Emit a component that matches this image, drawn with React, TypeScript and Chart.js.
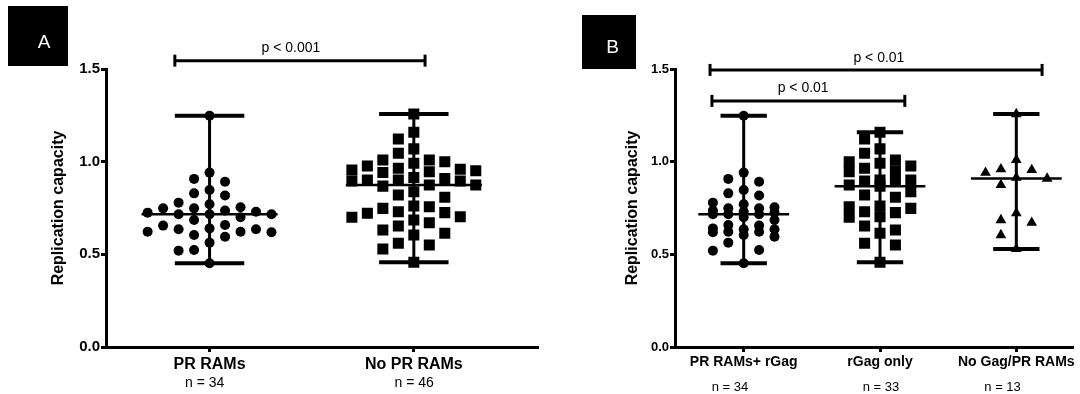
import React, { useEffect, useRef } from "react";
import { Chart, registerables } from "chart.js";

Chart.register(...registerables);

const FONT = "'Liberation Sans', Arial, Helvetica, sans-serif";
Chart.defaults.font.family = FONT;

// ---------- Data ----------
const categoriesA = ["PR RAMs", "No PR RAMs"];
const countsA = ["n = 34", "n = 46"];
const categoriesB = ["PR RAMs+ rGag", "rGag only", "No Gag/PR RAMs"];
const countsB = ["n = 34", "n = 33", "n = 13"];

const yTickValues = [0, 0.5, 1.0, 1.5];

// PR RAMs (+ rGag), n = 34
const prRams = [
  1.248, 0.941, 0.907, 0.892, 0.847, 0.829, 0.817, 0.779, 0.77, 0.754, 0.748,
  0.748, 0.736, 0.73, 0.725, 0.716, 0.716, 0.716, 0.7, 0.685, 0.658, 0.655,
  0.64, 0.635, 0.635, 0.622, 0.622, 0.619, 0.604, 0.595, 0.563, 0.523, 0.52,
  0.452,
];
// rGag only, n = 33
const rGagOnly = [
  1.159, 1.122, 1.069, 1.045, 1.009, 1.0, 0.991, 0.977, 0.964, 0.951, 0.946,
  0.901, 0.901, 0.896, 0.896, 0.874, 0.868, 0.838, 0.82, 0.808, 0.761, 0.757,
  0.748, 0.73, 0.725, 0.703, 0.7, 0.653, 0.631, 0.614, 0.56, 0.55, 0.457,
];
// No Gag/PR RAMs, n = 13
const noGagPr = [
  1.257, 1.009, 0.959, 0.955, 0.941, 0.914, 0.909, 0.874, 0.722, 0.685, 0.671,
  0.604, 0.529,
];
// No PR RAMs (= rGag only + No Gag/PR RAMs), n = 46
const noPrRams = [...rGagOnly, ...noGagPr];

const pValueA = ["p < 0.001"];
const pValuesB = ["p < 0.01", "p < 0.01"];

// ---------- helpers ----------
function median(vals: number[]) {
  const s = [...vals].sort((a, b) => a - b);
  const m = Math.floor(s.length / 2);
  return s.length % 2 ? s[m] : (s[m - 1] + s[m]) / 2;
}

// Prism-like column scatter: extremes on the centre line, the rest placed greedily into slots
function swarmSlots(values: number[], maxSlot: number, gap: number) {
  const idx = values.map((_, i) => i).sort((a, b) => values[b] - values[a]);
  const order = [idx[0], idx[idx.length - 1], ...idx.slice(1, -1)];
  const cols: Record<number, number[]> = {};
  const slots = new Array(values.length).fill(0);
  const cand = [0];
  for (let k = 1; k <= maxSlot; k++) cand.push(-k, k);
  order.forEach((i, n) => {
    const v = values[i];
    let best = 0;
    if (n >= 2) {
      let bestD = -1;
      for (const s of cand) {
        const col = cols[s] || [];
        const d = col.length ? Math.min(...col.map((u) => Math.abs(u - v))) : Infinity;
        if (d >= gap) {
          best = s;
          break;
        }
        if (d > bestD) {
          bestD = d;
          best = s;
        }
      }
    }
    slots[i] = best;
    (cols[best] = cols[best] || []).push(v);
  });
  return slots;
}

function strokeLine(ctx: any, x1: number, y1: number, x2: number, y2: number, w: number) {
  ctx.beginPath();
  ctx.lineWidth = w;
  ctx.lineCap = "butt";
  ctx.moveTo(x1, y1);
  ctx.lineTo(x2, y2);
  ctx.stroke();
}

const CAP_HALF = 0.17;
const MED_HALF = 0.333;

function makeConfig(p: any) {
  const datasets = p.groups.map((vals: number[], gi: number) => {
    const slots = swarmSlots(vals, p.maxSlot, p.gap);
    return {
      data: vals.map((v, i) => ({ x: gi + 1 + slots[i] * p.slotWidth, y: v })),
      pointStyle: p.styles[gi],
      pointRadius: p.radii[gi],
      pointHoverRadius: p.radii[gi],
      backgroundColor: "#000",
      borderColor: "#000",
      borderWidth: 0,
      pointBorderWidth: 0,
      showLine: false,
    };
  });

  const decor = {
    id: "decor",
    beforeDatasetsDraw(chart: any) {
      const { ctx } = chart;
      const x = chart.scales.x;
      const y = chart.scales.y;
      ctx.save();
      ctx.strokeStyle = "#000";
      p.groups.forEach((vals: number[], gi: number) => {
        const c = gi + 1;
        const cx = x.getPixelForValue(c);
        const mn = Math.min(...vals);
        const mx = Math.max(...vals);
        const md = median(vals);
        strokeLine(ctx, cx, y.getPixelForValue(mn), cx, y.getPixelForValue(mx), 3);
        for (const v of [mn, mx]) {
          const py = y.getPixelForValue(v);
          strokeLine(ctx, x.getPixelForValue(c - CAP_HALF), py, x.getPixelForValue(c + CAP_HALF), py, 4);
        }
        const pm = y.getPixelForValue(md);
        strokeLine(ctx, x.getPixelForValue(c - MED_HALF), pm, x.getPixelForValue(c + MED_HALF), pm, 2.5);
      });
      ctx.restore();
    },
    afterDraw(chart: any) {
      const { ctx } = chart;
      const x = chart.scales.x;
      const y = chart.scales.y;
      ctx.save();
      // panel letter
      const L = p.letter;
      ctx.fillStyle = "#000";
      ctx.fillRect(L.x, L.y, L.size, L.size);
      ctx.fillStyle = "#fff";
      ctx.font = `19px ${FONT}`;
      ctx.textAlign = "center";
      ctx.textBaseline = "middle";
      ctx.fillText(L.text, L.tx, L.ty);
      // significance brackets
      ctx.strokeStyle = "#000";
      ctx.fillStyle = "#000";
      p.brackets.forEach((b: any) => {
        const x1 = x.getPixelForValue(b.x1);
        const x2 = x.getPixelForValue(b.x2);
        const py = y.getPixelForValue(b.y);
        strokeLine(ctx, x1, py, x2, py, 3);
        strokeLine(ctx, x1, py - 6, x1, py + 6, 3);
        strokeLine(ctx, x2, py - 6, x2, py + 6, 3);
        ctx.font = `${p.pFont}px ${FONT}`;
        ctx.textAlign = "center";
        ctx.textBaseline = "middle";
        ctx.fillText(b.text, x.getPixelForValue(b.tx), y.getPixelForValue(b.ty));
      });
      // n labels
      ctx.font = `${p.nFont}px ${FONT}`;
      ctx.textAlign = "center";
      ctx.textBaseline = "middle";
      p.counts.forEach((t: string, i: number) => {
        ctx.fillText(t, x.getPixelForValue(p.countX[i]), y.getPixelForValue(p.countY));
      });
      ctx.restore();
    },
  };

  return {
    type: "scatter",
    data: { datasets },
    plugins: [decor],
    options: {
      animation: false,
      responsive: false,
      events: [],
      layout: { padding: { left: 0, top: 69, right: p.padRight, bottom: 0 } },
      plugins: { legend: { display: false }, tooltip: { enabled: false } },
      scales: {
        x: {
          type: "linear",
          min: p.xMin,
          max: p.xMax,
          afterBuildTicks: (s: any) => {
            s.ticks = p.categories.map((_: string, i: number) => ({ value: i + 1 }));
          },
          afterFit: (s: any) => {
            s.height = 47;
            s.paddingLeft = 0;
            s.paddingRight = 0;
          },
          grid: {
            display: true,
            drawOnChartArea: false,
            drawTicks: true,
            tickLength: 5,
            lineWidth: 3,
            color: "#000",
          },
          border: { display: true, color: "#000", width: 3 },
          ticks: {
            autoSkip: false,
            maxRotation: 0,
            minRotation: 0,
            padding: p.xPad,
            color: "#000",
            font: { size: p.catFont, weight: "bold", family: FONT },
            callback: (_v: any, i: number) => p.categories[i],
          },
        },
        y: {
          type: "linear",
          min: 0,
          max: 1.5,
          afterBuildTicks: (s: any) => {
            s.ticks = yTickValues.map((v) => ({ value: v }));
          },
          afterFit: (s: any) => {
            s.width = p.yWidth;
            s.paddingTop = 0;
            s.paddingBottom = 0;
          },
          grid: {
            display: true,
            drawOnChartArea: false,
            drawTicks: true,
            tickLength: 5,
            lineWidth: 3,
            color: "#000",
          },
          border: { display: true, color: "#000", width: 3 },
          ticks: {
            padding: 1,
            color: "#000",
            font: { size: p.tickFont, weight: "bold", family: FONT },
            callback: (v: any) => Number(v).toFixed(1),
          },
          title: {
            display: true,
            text: "Replication capacity",
            color: "#000",
            font: { size: 16, weight: "bold", family: FONT },
            padding: { top: p.titlePad, bottom: 0 },
          },
        },
      },
    },
  };
}

const panelA = {
  categories: categoriesA,
  counts: countsA,
  countX: [0.976, 2.002],
  countY: -0.194,
  groups: [prRams, noPrRams],
  styles: ["circle", "rect", "triangle"],
  radii: [5, 7.8, 6.2],
  xMin: 0.493,
  xMax: 2.604,
  padRight: 2,
  yWidth: 106,
  titlePad: 49.4,
  slotWidth: 0.0758,
  maxSlot: 4,
  gap: 0.075,
  catFont: 16,
  tickFont: 15,
  xPad: 3,
  nFont: 14,
  pFont: 14,
  letter: { x: 8, y: 6, size: 60, text: "A", tx: 44, ty: 43 },
  brackets: [{ x1: 0.83, x2: 2.055, y: 1.545, text: pValueA[0], tx: 1.398, ty: 1.614 }],
};

const panelB = {
  categories: categoriesB,
  counts: countsB,
  countX: [0.899, 2.007, 2.899],
  countY: -0.216,
  groups: [prRams, rGagOnly, noGagPr],
  styles: ["circle", "rect", "triangle"],
  radii: [5, 7.8, 6.2],
  xMin: 0.496,
  xMax: 3.41,
  padRight: 0,
  yWidth: 130,
  titlePad: 77.9,
  slotWidth: 0.113,
  maxSlot: 2,
  gap: 0.075,
  catFont: 14,
  tickFont: 13,
  xPad: 2,
  nFont: 13,
  pFont: 14,
  letter: { x: 37, y: 15, size: 54, text: "B", tx: 67.5, ty: 48 },
  brackets: [
    { x1: 0.753, x2: 3.189, y: 1.495, text: pValuesB[0], tx: 1.992, ty: 1.56 },
    { x1: 0.767, x2: 2.182, y: 1.328, text: pValuesB[1], tx: 1.436, ty: 1.398 },
  ],
};

export default function App() {
  const refA = useRef<HTMLCanvasElement>(null);
  const refB = useRef<HTMLCanvasElement>(null);
  useEffect(() => {
    const a = new Chart(refA.current as any, makeConfig(panelA) as any);
    const b = new Chart(refB.current as any, makeConfig(panelB) as any);
    return () => {
      a.destroy();
      b.destroy();
    };
  }, []);
  return (
    <div style={{ position: "fixed", left: 0, top: 0, width: 1080, height: 394, background: "#fff" }}>
      <canvas ref={refA} width={545} height={394} style={{ position: "absolute", left: 0, top: 0, width: 545, height: 394 }} />
      <canvas ref={refB} width={535} height={394} style={{ position: "absolute", left: 545, top: 0, width: 535, height: 394 }} />
    </div>
  );
}
